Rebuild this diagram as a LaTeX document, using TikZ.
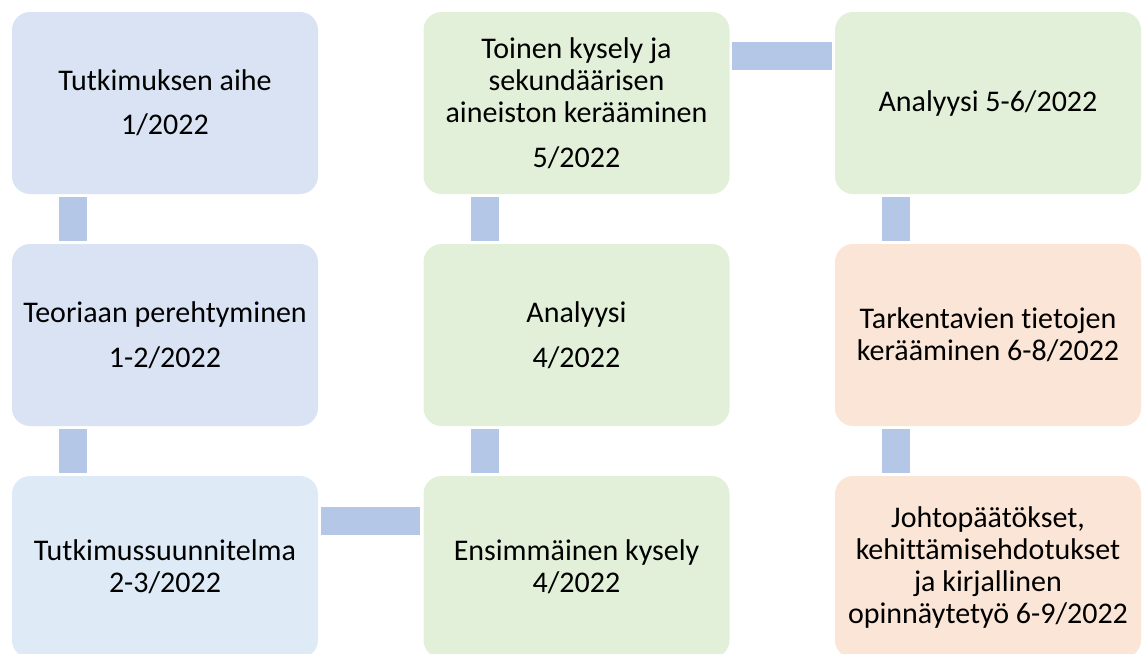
\documentclass[tikz,border=0pt]{standalone}
\usepackage{fontspec}
\setmainfont{Carlito}[Ligatures=NoCommon]
\usetikzlibrary{calc}
\definecolor{bA}{HTML}{DAE3F3}
\definecolor{bC}{HTML}{DEEBF7}
\definecolor{gA}{HTML}{E2F0D9}
\definecolor{oA}{HTML}{FBE5D6}
\definecolor{cn}{HTML}{B4C7E7}
\begin{document}
\begin{tikzpicture}[x=1pt,y=-1pt,
  box/.style={rounded corners=18pt, minimum width=306pt, minimum height=182pt,
    inner sep=0pt, align=center, font=\fontsize{30}{32}\selectfont, text=black},
  conn/.style={draw=cn, line width=28pt}]
\useasboundingbox (0,0) rectangle (1142,653);
\node[box, fill=bA] (b1) at (165,103) {Tutkimuksen aihe\\[12pt]1/2022};
\node[box, fill=bA] (b2) at (165,335) {Teoriaan perehtyminen\\[13pt]1-2/2022};
\node[box, fill=bC] (b3) at (165,567) {Tutkimussuunnitelma\\2-3/2022};
\node[box, fill=gA] (c1) at (576.5,103) {Toinen kysely ja\\sekundäärisen\\aineiston kerääminen\\[13pt]5/2022};
\node[box, fill=gA] (c2) at (576.5,335) {Analyysi\\[13pt]4/2022};
\node[box, fill=gA] (c3) at (576.5,567) {Ensimmäinen kysely\\4/2022};
\node[box, fill=gA] (d1) at (988,103) {Analyysi 5-6/2022};
\node[box, fill=oA] (d2) at (988,335) {Tarkentavien tietojen\\kerääminen 6-8/2022};
\node[box, fill=oA] (d3) at (988,567) {Johtopäätökset,\\kehittämisehdotukset\\ja kirjallinen\\opinnäytetyö 6-9/2022};
% connectors
\draw[conn] ($(b1.south west)+(61,3)$) -- ($(b2.north west)+(61,-3)$);
\draw[conn] ($(b2.south west)+(61,3)$) -- ($(b3.north west)+(61,-3)$);
\draw[conn] ($(b3.north east)+(3,45)$) -- ($(c3.north west)+(-3,45)$);
\draw[conn] ($(c3.north west)+(62,-3)$) -- ($(c2.south west)+(62,3)$);
\draw[conn] ($(c2.north west)+(62,-3)$) -- ($(c1.south west)+(62,3)$);
\draw[conn] ($(c1.north east)+(2,44)$) -- ($(d1.north west)+(-3,44)$);
\draw[conn] ($(d1.south west)+(61,3)$) -- ($(d2.north west)+(61,-3)$);
\draw[conn] ($(d2.south west)+(61,3)$) -- ($(d3.north west)+(61,-3)$);
\end{tikzpicture}
\end{document}
